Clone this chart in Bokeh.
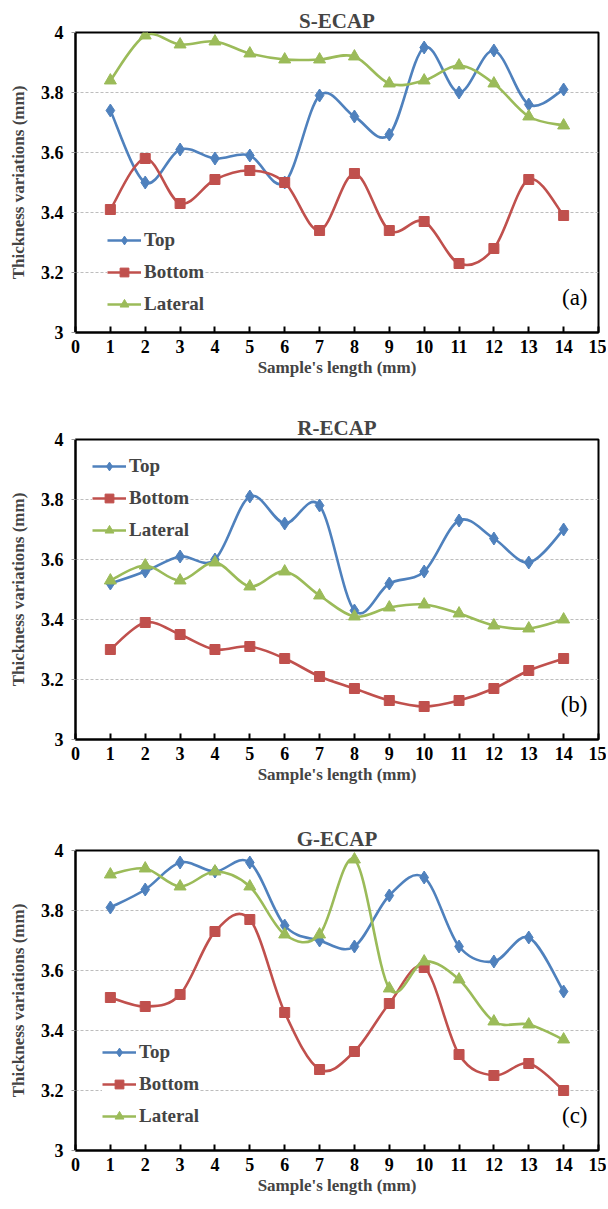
from bokeh.plotting import figure
from bokeh.layouts import column
from bokeh.models import Range1d, FixedTicker, Legend, LegendItem, Label, ColumnDataSource
from bokeh.embed import file_html
from bokeh.resources import INLINE

# ---- data ----
positions = [1, 2, 3, 4, 5, 6, 7, 8, 9, 10, 11, 12, 13, 14]
x_ticks = [0, 1, 2, 3, 4, 5, 6, 7, 8, 9, 10, 11, 12, 13, 14, 15]
y_ticks = [3, 3.2, 3.4, 3.6, 3.8, 4]
y_tick_labels = ["3", "3.2", "3.4", "3.6", "3.8", "4"]
series_names = ["Top", "Bottom", "Lateral"]
panel_titles = ["S-ECAP", "R-ECAP", "G-ECAP"]
panel_tags = ["(a)", "(b)", "(c)"]

s_top = [3.74, 3.50, 3.61, 3.58, 3.59, 3.50, 3.79, 3.72, 3.66, 3.95, 3.80, 3.94, 3.76, 3.81]
s_bottom = [3.41, 3.58, 3.43, 3.51, 3.54, 3.50, 3.34, 3.53, 3.34, 3.37, 3.23, 3.28, 3.51, 3.39]
s_lateral = [3.84, 3.99, 3.96, 3.97, 3.93, 3.91, 3.91, 3.92, 3.83, 3.84, 3.89, 3.83, 3.72, 3.69]

r_top = [3.52, 3.56, 3.61, 3.60, 3.81, 3.72, 3.78, 3.43, 3.52, 3.56, 3.73, 3.67, 3.59, 3.70]
r_bottom = [3.30, 3.39, 3.35, 3.30, 3.31, 3.27, 3.21, 3.17, 3.13, 3.11, 3.13, 3.17, 3.23, 3.27]
r_lateral = [3.53, 3.58, 3.53, 3.59, 3.51, 3.56, 3.48, 3.41, 3.44, 3.45, 3.42, 3.38, 3.37, 3.40]

g_top = [3.81, 3.87, 3.96, 3.93, 3.96, 3.75, 3.70, 3.68, 3.85, 3.91, 3.68, 3.63, 3.71, 3.53]
g_bottom = [3.51, 3.48, 3.52, 3.73, 3.77, 3.46, 3.27, 3.33, 3.49, 3.61, 3.32, 3.25, 3.29, 3.20]
g_lateral = [3.92, 3.94, 3.88, 3.93, 3.88, 3.72, 3.72, 3.97, 3.54, 3.63, 3.57, 3.43, 3.42, 3.37]

panels_data = [
    [s_top, s_bottom, s_lateral],
    [r_top, r_bottom, r_lateral],
    [g_top, g_bottom, g_lateral],
]

# ---- styles ----
COLORS = ["#4F81BD", "#C0504D", "#9BBB59"]
MARKERS = [("diamond", 13), ("square", 10), ("triangle", 12)]
FONT = "Liberation Serif"

# layout per panel: (height, border_top, border_bottom, legend_loc)
layouts = [
    (408, 32, 76, (32, 17)),
    (400, 31, 69, (17, 198)),
    (397, 42, 55, (27, 23)),
]


def smooth_segments(xs, ys):
    """Bezier control points (Catmull-Rom style, like Excel's smoothed line)."""
    n = len(xs)
    d = dict(x0=[], y0=[], x1=[], y1=[], cx0=[], cy0=[], cx1=[], cy1=[])
    for i in range(n - 1):
        pm = max(i - 1, 0)
        pp = min(i + 2, n - 1)
        d["x0"].append(xs[i]); d["y0"].append(ys[i])
        d["x1"].append(xs[i + 1]); d["y1"].append(ys[i + 1])
        d["cx0"].append(xs[i] + (xs[i + 1] - xs[pm]) / 6.0)
        d["cy0"].append(ys[i] + (ys[i + 1] - ys[pm]) / 6.0)
        d["cx1"].append(xs[i + 1] - (xs[pp] - xs[i]) / 6.0)
        d["cy1"].append(ys[i + 1] - (ys[pp] - ys[i]) / 6.0)
    return d


figs = []
for k in range(3):
    h, bt, bb, loc = layouts[k]
    p = figure(width=606, height=h, output_backend="svg", toolbar_location=None,
               x_range=Range1d(0, 15), y_range=Range1d(3, 4),
               min_border_left=75, min_border_right=8,
               min_border_top=bt, min_border_bottom=bb)
    p.title.text = panel_titles[k]
    p.title.align = "center"
    p.title.text_font = FONT
    p.title.text_font_style = "bold"
    p.title.text_font_size = "21px"
    p.title.standoff = 0
    p.title.offset = 0

    p.outline_line_color = "black"
    p.outline_line_width = 2
    p.outline_line_alpha = 1
    p.background_fill_color = "white"
    p.border_fill_color = "white"

    p.xgrid.visible = False
    p.ygrid.ticker = FixedTicker(ticks=y_ticks)
    p.ygrid.grid_line_color = "#BDBDBD"
    p.ygrid.grid_line_dash = "3 2"
    p.ygrid.grid_line_width = 1

    xa = p.xaxis[0]
    xa.ticker = FixedTicker(ticks=x_ticks)
    xa.axis_line_width = 2
    xa.axis_line_color = "black"
    xa.major_tick_in = 6
    xa.major_tick_out = 0
    xa.major_tick_line_width = 2
    xa.minor_tick_line_color = None
    xa.major_label_standoff = 7
    xa.major_label_text_font = FONT
    xa.major_label_text_font_style = "bold"
    xa.major_label_text_font_size = "18px"
    xa.major_label_text_color = "black"
    xa.axis_label = "Sample's length (mm)"
    xa.axis_label_text_font = FONT
    xa.axis_label_text_font_style = "bold"
    xa.axis_label_text_font_size = "17px"
    xa.axis_label_standoff = 2

    ya = p.yaxis[0]
    ya.ticker = FixedTicker(ticks=y_ticks)
    ya.major_label_overrides = {t: s for t, s in zip(y_ticks, y_tick_labels)}
    ya.axis_line_width = 2
    ya.axis_line_color = "black"
    ya.major_tick_in = 0
    ya.major_tick_out = 4
    ya.major_tick_line_color = "#999999"
    ya.minor_tick_line_color = None
    ya.major_label_standoff = 8
    ya.major_label_text_font = FONT
    ya.major_label_text_font_style = "bold"
    ya.major_label_text_font_size = "18px"
    ya.major_label_text_color = "black"
    ya.axis_label = "Thickness variations (mm)"
    ya.axis_label_text_font = FONT
    ya.axis_label_text_font_style = "bold"
    ya.axis_label_text_font_size = "17px"
    ya.axis_label_standoff = 10

    items = []
    for j in range(3):
        vals = panels_data[k][j]
        col = COLORS[j]
        seg = ColumnDataSource(smooth_segments(positions, vals))
        p.bezier(x0="x0", y0="y0", x1="x1", y1="y1", cx0="cx0", cy0="cy0",
                 cx1="cx1", cy1="cy1", source=seg, line_color=col, line_width=2.6)
        mk, sz = MARKERS[j]
        sc = p.scatter(positions, vals, marker=mk, size=sz, fill_color=col,
                       line_color=col, line_width=1)
        # single-point line: draws nothing in the plot, provides the legend stroke
        leg_line = p.line(x=positions[:1], y=vals[:1], line_color=col, line_width=2.6)
        items.append(LegendItem(label=series_names[j], renderers=[leg_line, sc]))

    legend = Legend(items=items, location=loc, orientation="vertical",
                    background_fill_color="white", background_fill_alpha=1,
                    border_line_color=None, padding=8, spacing=10, margin=0,
                    glyph_width=34, glyph_height=22, label_height=22,
                    label_standoff=3, label_text_font=FONT,
                    label_text_font_style="bold", label_text_font_size="19px")
    p.add_layout(legend, "center")

    tag = Label(x=15, y=3, x_offset=-11, y_offset=35, text=panel_tags[k],
                text_align="right", text_baseline="middle", text_font=FONT,
                text_font_size="23px", text_color="black")
    p.add_layout(tag)
    figs.append(p)

layout = column(*figs, spacing=0)
open("out.html", "w").write(file_html(layout, INLINE))
